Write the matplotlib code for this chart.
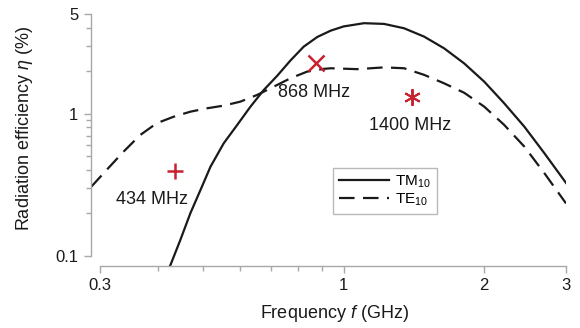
import matplotlib
matplotlib.use("Agg")
import matplotlib.pyplot as plt
from matplotlib.ticker import FixedLocator, NullFormatter

plt.rcParams['font.family'] = ['Liberation Sans', 'DejaVu Sans']
plt.rcParams['mathtext.fontset'] = 'custom'
plt.rcParams['mathtext.rm'] = 'Liberation Sans'
plt.rcParams['mathtext.it'] = 'Liberation Sans:italic'

# TM10 (solid)
tm_f = [0.418, 0.425, 0.446, 0.469, 0.493, 0.518, 0.553, 0.591, 0.631, 0.674,
        0.720, 0.769, 0.821, 0.878, 0.938, 1.0, 1.106, 1.221, 1.348, 1.488,
        1.643, 1.814, 2.003, 2.211, 2.442, 2.697, 3.0]
tm_eta = [0.078, 0.0865, 0.129, 0.200, 0.291, 0.424, 0.619, 0.832, 1.118, 1.465,
          1.84, 2.36, 2.95, 3.45, 3.82, 4.09, 4.31, 4.26, 3.97, 3.47,
          2.87, 2.25, 1.675, 1.18, 0.809, 0.526, 0.326]

# TE10 (dashed)
te_f = [0.287, 0.310, 0.337, 0.366, 0.397, 0.432, 0.469, 0.509, 0.553, 0.600,
        0.652, 0.708, 0.769, 0.835, 0.907, 0.938, 1.070, 1.221, 1.348, 1.488,
        1.643, 1.814, 2.003, 2.211, 2.442, 2.697, 3.0]
te_eta = [0.305, 0.402, 0.540, 0.707, 0.855, 0.951, 1.031, 1.089, 1.137, 1.212,
          1.351, 1.545, 1.77, 1.97, 2.06, 2.08, 2.05, 2.11, 2.08, 1.87,
          1.63, 1.40, 1.118, 0.832, 0.586, 0.381, 0.234]

# measured points
meas_f = [0.435, 0.871, 1.405]
meas_eta = [0.397, 2.25, 1.30]
meas_markers = ['+', 'x', (6, 2, 0)]
meas_labels = ['434 MHz', '868 MHz', '1400 MHz']
label_pos_f = [0.388, 0.862, 1.39]
label_pos_eta = [0.249, 1.40, 0.818]

x_major = [0.3, 1, 2, 3]
x_major_labels = ['0.3', '1', '2', '3']
x_minor = [0.4, 0.5, 0.6, 0.7, 0.8, 0.9]
y_major = [0.1, 1, 5]
y_major_labels = ['0.1', '1', '5']
y_minor = [0.2, 0.3, 0.4, 0.5, 0.6, 0.7, 0.8, 0.9, 2, 3, 4]

red = '#c8212f'
gray = '#a8a8a8'
ink = '#1a1a1a'

fig = plt.figure(figsize=(5.8, 3.28), dpi=100)
ax = fig.add_axes([91/580, 62/328, 475/580, 252/328])
ax.set_xscale('log')
ax.set_yscale('log')
ax.set_xlim(0.287, 3.0)
ax.set_ylim(0.0851, 5.0)

ax.plot(tm_f, tm_eta, color=ink, lw=1.6, label=r'TM$_{10}$')
ax.plot(te_f, te_eta, color=ink, lw=1.6, dashes=(7, 3.8), label=r'TE$_{10}$')

meas_sizes = [12, 12, 12]
meas_widths = [1.8, 1.8, 1.4]
for f, e, m, ms, mw in zip(meas_f, meas_eta, meas_markers, meas_sizes, meas_widths):
    ax.plot([f], [e], linestyle='none', marker=m, markersize=ms, markeredgewidth=mw,
            color=red, clip_on=False)
for f, e, t in zip(label_pos_f, label_pos_eta, meas_labels):
    ax.text(f, e, t, ha='center', va='center', fontsize=13, color=ink)

for s in ['top', 'right']:
    ax.spines[s].set_visible(False)
for s in ['left', 'bottom']:
    ax.spines[s].set_color(gray)
    ax.spines[s].set_linewidth(1.0)
ax.spines['bottom'].set_bounds(0.3, 3)
ax.spines['left'].set_bounds(0.1, 5)

ax.xaxis.set_major_locator(FixedLocator(x_major))
ax.xaxis.set_minor_locator(FixedLocator(x_minor))
ax.set_xticklabels(x_major_labels)
ax.xaxis.set_minor_formatter(NullFormatter())
ax.yaxis.set_major_locator(FixedLocator(y_major))
ax.yaxis.set_minor_locator(FixedLocator(y_minor))
ax.set_yticklabels(y_major_labels)
ax.yaxis.set_minor_formatter(NullFormatter())
ax.tick_params(which='both', direction='out', color=gray, width=1.0,
               labelsize=12, labelcolor=ink)
ax.tick_params(which='major', length=5, pad=4)
ax.tick_params(which='minor', length=3.5)

fig.text(334/580, 1 - 314/328, r'Frequency $f$ (GHz)', ha='center', va='center',
         fontsize=13, color=ink)
fig.text(25/580, 1 - 129/328, r'Radiation efficiency $\eta$ (%)', ha='center', va='center',
         rotation=90, fontsize=13, color=ink)

leg = ax.legend(loc='lower left', bbox_to_anchor=(0.509, 0.206), borderaxespad=0,
                fontsize=11, frameon=True, fancybox=False, handlelength=3.3,
                handletextpad=0.4, labelspacing=0.1, borderpad=0.4)
leg.get_frame().set_edgecolor(gray)
leg.get_frame().set_linewidth(1.0)

fig.savefig('out.png', dpi=100)
